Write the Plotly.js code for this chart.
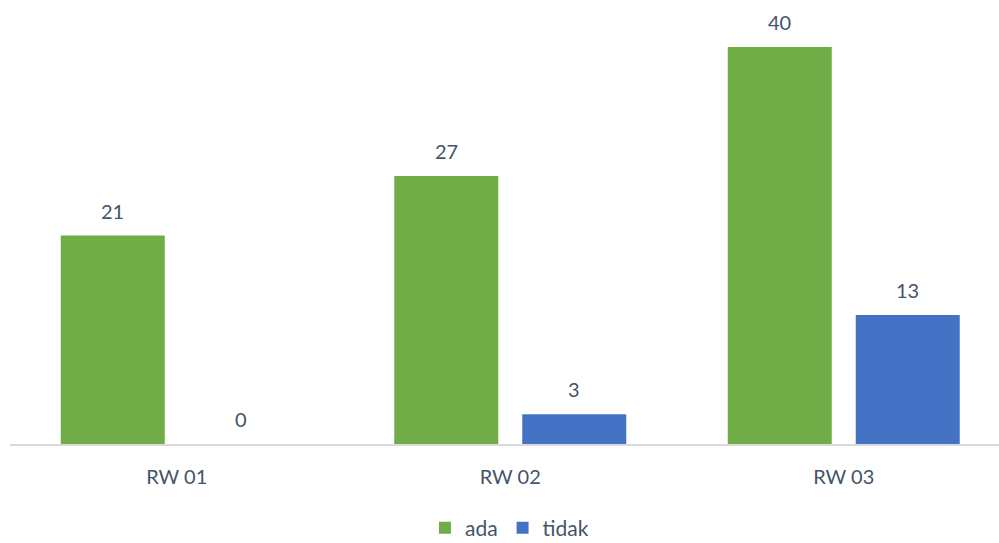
<!DOCTYPE html>
<html>
<head>
<meta charset="utf-8">
<script src="https://cdn.plot.ly/plotly-3.0.1.min.js"></script>
<style>
  html, body { margin: 0; padding: 0; background: #ffffff; }
  #chart { width: 999px; height: 543px; }
</style>
</head>
<body>
<div id="chart"></div>
<script>
// Households per RW, split by "ada" / "tidak"
const categories = ['RW 01', 'RW 02', 'RW 03'];
const adaValues = [21, 27, 40];
const tidakValues = [0, 3, 13];
const seriesNames = ['ada', 'tidak'];

const textColor = '#44546a';
const fontFamily = 'Lato, "Open Sans", sans-serif';

const traces = [
  {
    type: 'bar',
    name: seriesNames[0],
    x: categories,
    y: adaValues,
    marker: { color: '#70ad47' },
    hoverinfo: 'x+y+name'
  },
  {
    type: 'bar',
    name: seriesNames[1],
    x: categories,
    y: tidakValues,
    marker: { color: '#4472c4' },
    hoverinfo: 'x+y+name'
  }
];

// Value labels placed above each bar of its group
const annotations = [];
[adaValues, tidakValues].forEach((vals, s) => {
  vals.forEach((v, i) => {
    annotations.push({
      x: categories[i],
      y: v,
      xref: 'x',
      yref: 'y',
      text: String(v),
      showarrow: false,
      xshift: s === 0 ? -64 : 64,
      yshift: 25,
      yanchor: 'middle',
      font: { family: fontFamily, size: 20, color: textColor }
    });
  });
});

const layout = {
  width: 999,
  height: 543,
  margin: { l: 10, r: 0, t: 10, b: 99, autoexpand: false },
  paper_bgcolor: '#ffffff',
  plot_bgcolor: '#ffffff',
  barmode: 'group',
  bargap: 0.2324,
  bargroupgap: 0.1875,
  font: { family: fontFamily, size: 20, color: textColor },
  xaxis: {
    type: 'category',
    range: [-0.5, 2.4655],
    showline: true,
    linecolor: '#d9d9d9',
    linewidth: 2,
    showgrid: false,
    zeroline: false,
    ticks: '',
    ticklabelstandoff: 14,
    tickfont: { family: fontFamily, size: 20, color: textColor },
    fixedrange: true
  },
  yaxis: {
    range: [0, 43.73],
    visible: false,
    showgrid: false,
    zeroline: false,
    fixedrange: true
  },
  showlegend: true,
  legend: {
    orientation: 'h',
    x: 0.505,
    xanchor: 'center',
    y: -0.194,
    yanchor: 'middle',
    font: { family: fontFamily, size: 21, color: textColor },
    itemwidth: 30,
    traceorder: 'normal'
  },
  annotations: annotations
};

Plotly.newPlot('chart', traces, layout, { displayModeBar: false, staticPlot: true });
</script>
</body>
</html>
